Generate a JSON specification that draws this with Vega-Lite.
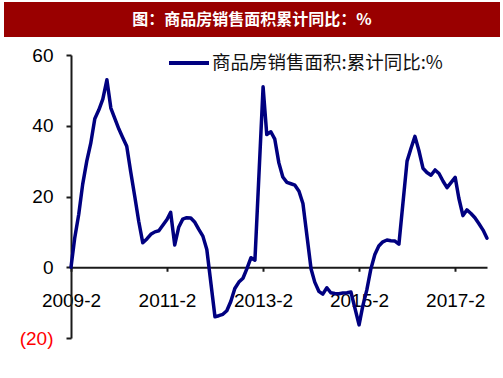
{
  "$schema": "https://vega.github.io/schema/vega-lite/v6.json",
  "padding": {"left": 4, "top": 2, "right": 3, "bottom": 3},
  "background": "white",
  "spacing": 9,
  "config": {"view": {"stroke": null}, "font": "Liberation Sans"},
  "vconcat": [
    {
      "width": 496,
      "height": 35,
      "view": {"fill": "#990000", "stroke": null},
      "data": {"values": [{"t": "图：商品房销售面积累计同比：%"}]},
      "mark": {"type": "text", "color": "white", "font": "Noto Sans CJK SC", "fontWeight": "bold", "fontSize": 16, "align": "center", "baseline": "middle"},
      "encoding": {"text": {"field": "t", "type": "nominal"}}
    },
    {
      "width": 496,
      "height": 283,
      "data": {"values": [
        {"date": "2009-02-01", "v": 0, "s": "商品房销售面积:累计同比:%"},
        {"date": "2009-03-01", "v": 8.2, "s": "商品房销售面积:累计同比:%"},
        {"date": "2009-04-01", "v": 15, "s": "商品房销售面积:累计同比:%"},
        {"date": "2009-05-01", "v": 23.5, "s": "商品房销售面积:累计同比:%"},
        {"date": "2009-06-01", "v": 30, "s": "商品房销售面积:累计同比:%"},
        {"date": "2009-07-01", "v": 35, "s": "商品房销售面积:累计同比:%"},
        {"date": "2009-08-01", "v": 42, "s": "商品房销售面积:累计同比:%"},
        {"date": "2009-09-01", "v": 44.5, "s": "商品房销售面积:累计同比:%"},
        {"date": "2009-10-01", "v": 47.5, "s": "商品房销售面积:累计同比:%"},
        {"date": "2009-11-01", "v": 53, "s": "商品房销售面积:累计同比:%"},
        {"date": "2009-12-01", "v": 45, "s": "商品房销售面积:累计同比:%"},
        {"date": "2010-02-01", "v": 39, "s": "商品房销售面积:累计同比:%"},
        {"date": "2010-03-01", "v": 36.7, "s": "商品房销售面积:累计同比:%"},
        {"date": "2010-04-01", "v": 34.2, "s": "商品房销售面积:累计同比:%"},
        {"date": "2010-05-01", "v": 27, "s": "商品房销售面积:累计同比:%"},
        {"date": "2010-06-01", "v": 20, "s": "商品房销售面积:累计同比:%"},
        {"date": "2010-07-01", "v": 13, "s": "商品房销售面积:累计同比:%"},
        {"date": "2010-08-01", "v": 6.9, "s": "商品房销售面积:累计同比:%"},
        {"date": "2010-09-01", "v": 8, "s": "商品房销售面积:累计同比:%"},
        {"date": "2010-10-01", "v": 9.3, "s": "商品房销售面积:累计同比:%"},
        {"date": "2010-11-01", "v": 10, "s": "商品房销售面积:累计同比:%"},
        {"date": "2010-12-01", "v": 10.3, "s": "商品房销售面积:累计同比:%"},
        {"date": "2011-02-01", "v": 13.5, "s": "商品房销售面积:累计同比:%"},
        {"date": "2011-03-01", "v": 15.5, "s": "商品房销售面积:累计同比:%"},
        {"date": "2011-04-01", "v": 6.3, "s": "商品房销售面积:累计同比:%"},
        {"date": "2011-05-01", "v": 11.3, "s": "商品房销售面积:累计同比:%"},
        {"date": "2011-06-01", "v": 13.6, "s": "商品房销售面积:累计同比:%"},
        {"date": "2011-07-01", "v": 14, "s": "商品房销售面积:累计同比:%"},
        {"date": "2011-08-01", "v": 13.9, "s": "商品房销售面积:累计同比:%"},
        {"date": "2011-09-01", "v": 12.7, "s": "商品房销售面积:累计同比:%"},
        {"date": "2011-10-01", "v": 10.7, "s": "商品房销售面积:累计同比:%"},
        {"date": "2011-11-01", "v": 8.8, "s": "商品房销售面积:累计同比:%"},
        {"date": "2011-12-01", "v": 5, "s": "商品房销售面积:累计同比:%"},
        {"date": "2012-02-01", "v": -14, "s": "商品房销售面积:累计同比:%"},
        {"date": "2012-03-01", "v": -13.7, "s": "商品房销售面积:累计同比:%"},
        {"date": "2012-04-01", "v": -13.3, "s": "商品房销售面积:累计同比:%"},
        {"date": "2012-05-01", "v": -12.3, "s": "商品房销售面积:累计同比:%"},
        {"date": "2012-06-01", "v": -9.6, "s": "商品房销售面积:累计同比:%"},
        {"date": "2012-07-01", "v": -6, "s": "商品房销售面积:累计同比:%"},
        {"date": "2012-08-01", "v": -4.2, "s": "商品房销售面积:累计同比:%"},
        {"date": "2012-09-01", "v": -3.1, "s": "商品房销售面积:累计同比:%"},
        {"date": "2012-10-01", "v": -0.4, "s": "商品房销售面积:累计同比:%"},
        {"date": "2012-11-01", "v": 2.7, "s": "商品房销售面积:累计同比:%"},
        {"date": "2012-12-01", "v": 2, "s": "商品房销售面积:累计同比:%"},
        {"date": "2013-02-01", "v": 51, "s": "商品房销售面积:累计同比:%"},
        {"date": "2013-03-01", "v": 37.5, "s": "商品房销售面积:累计同比:%"},
        {"date": "2013-04-01", "v": 38.3, "s": "商品房销售面积:累计同比:%"},
        {"date": "2013-05-01", "v": 36.2, "s": "商品房销售面积:累计同比:%"},
        {"date": "2013-06-01", "v": 29.5, "s": "商品房销售面积:累计同比:%"},
        {"date": "2013-07-01", "v": 25.5, "s": "商品房销售面积:累计同比:%"},
        {"date": "2013-08-01", "v": 24, "s": "商品房销售面积:累计同比:%"},
        {"date": "2013-09-01", "v": 23.6, "s": "商品房销售面积:累计同比:%"},
        {"date": "2013-10-01", "v": 23.2, "s": "商品房销售面积:累计同比:%"},
        {"date": "2013-11-01", "v": 21.5, "s": "商品房销售面积:累计同比:%"},
        {"date": "2013-12-01", "v": 18, "s": "商品房销售面积:累计同比:%"},
        {"date": "2014-02-01", "v": -0.5, "s": "商品房销售面积:累计同比:%"},
        {"date": "2014-03-01", "v": -4.2, "s": "商品房销售面积:累计同比:%"},
        {"date": "2014-04-01", "v": -6.8, "s": "商品房销售面积:累计同比:%"},
        {"date": "2014-05-01", "v": -7.6, "s": "商品房销售面积:累计同比:%"},
        {"date": "2014-06-01", "v": -5.8, "s": "商品房销售面积:累计同比:%"},
        {"date": "2014-07-01", "v": -7.2, "s": "商品房销售面积:累计同比:%"},
        {"date": "2014-08-01", "v": -7.4, "s": "商品房销售面积:累计同比:%"},
        {"date": "2014-09-01", "v": -7.5, "s": "商品房销售面积:累计同比:%"},
        {"date": "2014-10-01", "v": -7.3, "s": "商品房销售面积:累计同比:%"},
        {"date": "2014-11-01", "v": -7.2, "s": "商品房销售面积:累计同比:%"},
        {"date": "2014-12-01", "v": -7, "s": "商品房销售面积:累计同比:%"},
        {"date": "2015-02-01", "v": -16.3, "s": "商品房销售面积:累计同比:%"},
        {"date": "2015-03-01", "v": -11, "s": "商品房销售面积:累计同比:%"},
        {"date": "2015-04-01", "v": -6.4, "s": "商品房销售面积:累计同比:%"},
        {"date": "2015-05-01", "v": -0.6, "s": "商品房销售面积:累计同比:%"},
        {"date": "2015-06-01", "v": 3.6, "s": "商品房销售面积:累计同比:%"},
        {"date": "2015-07-01", "v": 6, "s": "商品房销售面积:累计同比:%"},
        {"date": "2015-08-01", "v": 7.2, "s": "商品房销售面积:累计同比:%"},
        {"date": "2015-09-01", "v": 7.7, "s": "商品房销售面积:累计同比:%"},
        {"date": "2015-10-01", "v": 7.5, "s": "商品房销售面积:累计同比:%"},
        {"date": "2015-11-01", "v": 7.4, "s": "商品房销售面积:累计同比:%"},
        {"date": "2015-12-01", "v": 6.5, "s": "商品房销售面积:累计同比:%"},
        {"date": "2016-02-01", "v": 30, "s": "商品房销售面积:累计同比:%"},
        {"date": "2016-03-01", "v": 33.5, "s": "商品房销售面积:累计同比:%"},
        {"date": "2016-04-01", "v": 37, "s": "商品房销售面积:累计同比:%"},
        {"date": "2016-05-01", "v": 33, "s": "商品房销售面积:累计同比:%"},
        {"date": "2016-06-01", "v": 28, "s": "商品房销售面积:累计同比:%"},
        {"date": "2016-07-01", "v": 26.8, "s": "商品房销售面积:累计同比:%"},
        {"date": "2016-08-01", "v": 26, "s": "商品房销售面积:累计同比:%"},
        {"date": "2016-09-01", "v": 27.5, "s": "商品房销售面积:累计同比:%"},
        {"date": "2016-10-01", "v": 26.5, "s": "商品房销售面积:累计同比:%"},
        {"date": "2016-11-01", "v": 24.3, "s": "商品房销售面积:累计同比:%"},
        {"date": "2016-12-01", "v": 22.5, "s": "商品房销售面积:累计同比:%"},
        {"date": "2017-02-01", "v": 25.4, "s": "商品房销售面积:累计同比:%"},
        {"date": "2017-03-01", "v": 19.5, "s": "商品房销售面积:累计同比:%"},
        {"date": "2017-04-01", "v": 14.6, "s": "商品房销售面积:累计同比:%"},
        {"date": "2017-05-01", "v": 16.2, "s": "商品房销售面积:累计同比:%"},
        {"date": "2017-06-01", "v": 15.2, "s": "商品房销售面积:累计同比:%"},
        {"date": "2017-07-01", "v": 14, "s": "商品房销售面积:累计同比:%"},
        {"date": "2017-08-01", "v": 12.3, "s": "商品房销售面积:累计同比:%"},
        {"date": "2017-09-01", "v": 10.5, "s": "商品房销售面积:累计同比:%"},
        {"date": "2017-10-01", "v": 8.2, "s": "商品房销售面积:累计同比:%"}
      ]},
      "mark": {"type": "line", "strokeWidth": 3.5, "strokeJoin": "round", "strokeCap": "round"},
      "encoding": {
        "x": {
          "field": "date",
          "type": "temporal",
          "scale": {"type": "utc", "domain": [{"year": 2009, "month": 2, "date": 1, "utc": true}, {"year": 2017, "month": 10, "date": 1, "utc": true}], "range": [67, 483]},
          "axis": {
            "title": null,
            "offset": -70.75,
            "values": [
              {"year": 2009, "month": 2, "date": 1, "utc": true},
              {"year": 2011, "month": 2, "date": 1, "utc": true},
              {"year": 2013, "month": 2, "date": 1, "utc": true},
              {"year": 2015, "month": 2, "date": 1, "utc": true},
              {"year": 2017, "month": 2, "date": 1, "utc": true}
            ],
            "labelExpr": "utcFormat(datum.value, '%Y-%-m')",
            "labelFlush": false,
            "labelOverlap": false,
            "labelFont": "Liberation Sans",
            "labelFontSize": 19,
            "labelColor": "black",
            "labelPadding": 20,
            "tickSize": 4,
            "tickWidth": 2,
            "tickColor": "#1a1a1a",
            "domainColor": "#1a1a1a",
            "domainWidth": 2,
            "grid": false
          }
        },
        "y": {
          "field": "v",
          "type": "quantitative",
          "scale": {"domain": [-20, 60], "nice": false, "zero": false},
          "axis": {
            "title": null,
            "offset": -67,
            "values": [-20, 0, 20, 40, 60],
            "labelExpr": "datum.value < 0 ? '(' + abs(datum.value) + ')' : datum.value + '\u00a0'",
            "labelColor": {"condition": {"test": "datum.value < 0", "value": "#ff0000"}, "value": "black"},
            "labelFont": "Liberation Sans",
            "labelFontSize": 19,
            "labelPadding": 13,
            "tickSize": 5,
            "tickWidth": 2,
            "tickColor": "#1a1a1a",
            "domainColor": "#1a1a1a",
            "domainWidth": 2,
            "grid": false
          }
        },
        "color": {
          "field": "s",
          "type": "nominal",
          "scale": {"range": ["#000080"]},
          "legend": {
            "title": null,
            "orient": "none",
            "legendX": 173,
            "legendY": 49,
            "padding": 0,
            "symbolType": "M-2,0H2",
            "symbolSize": 400,
            "symbolStrokeWidth": 4,
            "labelFont": "Noto Sans CJK SC",
            "labelFontSize": 18.5,
            "labelColor": "#111111",
            "labelLimit": 400,
            "labelOffset": 11
          }
        }
      }
    }
  ]
}
